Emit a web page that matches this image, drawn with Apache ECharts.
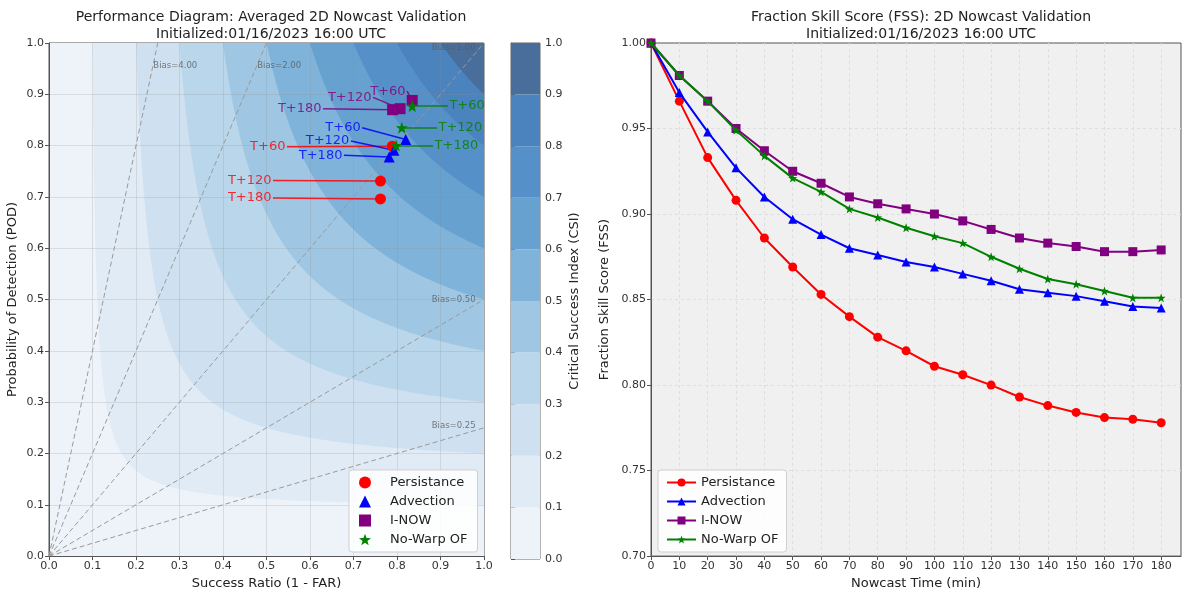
<!DOCTYPE html>
<html>
<head>
<meta charset="utf-8">
<title>2D Nowcast Validation</title>
<script src="https://cdn.jsdelivr.net/npm/echarts@6/dist/echarts.min.js"></script>
<style>html,body{margin:0;padding:0;background:#fff;}</style>
</head>
<body>
<div id="main" style="width:1188px;height:595px;"></div>
<script type="text/javascript">

// --- data ---
var methods = ['Persistance', 'Advection', 'I-NOW', 'No-Warp OF'];
var leadLabels = ['T+60', 'T+120', 'T+180'];

// performance diagram points [success ratio, POD] for T+60, T+120, T+180
var perfPersist = [[0.789, 0.799], [0.762, 0.731], [0.762, 0.696]];
var perfAdvect  = [[0.820, 0.812], [0.793, 0.791], [0.782, 0.778]];
var perfInow    = [[0.835, 0.888], [0.807, 0.872], [0.790, 0.870]];
var perfNowarp  = [[0.835, 0.877], [0.811, 0.835], [0.798, 0.800]];

// where the annotation text sits (data coords)
var notePersist = [[0.547, 0.798], [0.515, 0.732], [0.515, 0.698]];
var noteAdvect  = [[0.720, 0.835], [0.694, 0.809], [0.678, 0.781]];
var noteInow    = [[0.823, 0.906], [0.745, 0.894], [0.630, 0.872]];
var noteNowarp  = [[0.917, 0.877], [0.892, 0.835], [0.883, 0.800]];

var biasValues = [0.25, 0.5, 1, 2, 4];
var csiLevels = [0, 0.1, 0.2, 0.3, 0.4, 0.5, 0.6, 0.7, 0.8, 0.9];
var csiColors = ['#eef3f9', '#e0ebf5', '#cfe1f0', '#b9d6ea', '#9fc7e3',
                 '#7fb3da', '#66a1d0', '#5590c8', '#4b83bf', '#4a6e9c'];

// fraction skill score vs nowcast time
var times = [0, 10, 20, 30, 40, 50, 60, 70, 80, 90, 100, 110, 120, 130, 140, 150, 160, 170, 180];
var fssPersist = [1.0, 0.966, 0.933, 0.908, 0.886, 0.869, 0.853, 0.840, 0.828, 0.820, 0.811, 0.806, 0.800, 0.793, 0.788, 0.784, 0.781, 0.780, 0.778];
var fssAdvect  = [1.0, 0.971, 0.948, 0.927, 0.910, 0.897, 0.888, 0.880, 0.876, 0.872, 0.869, 0.865, 0.861, 0.856, 0.854, 0.852, 0.849, 0.846, 0.845];
var fssInow    = [1.0, 0.981, 0.966, 0.950, 0.937, 0.925, 0.918, 0.910, 0.906, 0.903, 0.900, 0.896, 0.891, 0.886, 0.883, 0.881, 0.878, 0.878, 0.879];
var fssNowarp  = [1.0, 0.981, 0.966, 0.949, 0.934, 0.921, 0.913, 0.903, 0.898, 0.892, 0.887, 0.883, 0.875, 0.868, 0.862, 0.859, 0.855, 0.851, 0.851];

// --- styling ---
var FONT = 'DejaVu Sans';
var colors = ['#ff0000', '#0000ff', '#800080', '#008000'];
var star = 'path://M0,-10L2.35,-3.24L9.51,-3.09L3.8,1.24L5.88,8.09L0,4L-5.88,8.09L-3.8,1.24L-9.51,-3.09L-2.35,-3.24Z';
var symbols = ['circle', 'triangle', 'rect', star];
var perfData = [perfPersist, perfAdvect, perfInow, perfNowarp];
var noteData = [notePersist, noteAdvect, noteInow, noteNowarp];
var noteSide = ['left', 'left', 'left', 'right'];
var fssData = [fssPersist, fssAdvect, fssInow, fssNowarp];

var myChart = echarts.init(document.getElementById('main'));

function pairs(xs, ys) {
  return xs.map(function (x, i) { return [x, ys[i]]; });
}

// filled CSI band: region where CSI >= level, painted lowest first
function renderBand(params, api) {
  var c = api.value(0);
  var pts = [];
  if (c <= 0) {
    pts = [api.coord([0, 0]), api.coord([1, 0]), api.coord([1, 1]), api.coord([0, 1])];
  } else {
    var K = 1 / c - 1, n = 240;
    for (var i = n; i >= 0; i--) {
      var u = K * i / n;
      pts.push(api.coord([1 / (1 + u), 1 / (1 + K - u)]));
    }
    pts.push(api.coord([1, 1]));
  }
  return { type: 'polygon', shape: { points: pts }, style: { fill: csiColors[params.dataIndex] } };
}

function renderCbar(params, api) {
  var c = api.value(0);
  var p0 = api.coord([0, c + 0.1]);
  var p1 = api.coord([1, c]);
  return { type: 'rect', shape: { x: p0[0], y: p0[1], width: p1[0] - p0[0], height: p1[1] - p0[1] },
           style: { fill: csiColors[params.dataIndex] } };
}

var axisCommon = {
  axisLine: { show: true, lineStyle: { color: '#555', width: 1 } },
  axisTick: { show: true, length: 4, lineStyle: { color: '#555' } },
  axisLabel: { color: '#333', fontSize: 11, fontFamily: FONT, margin: 5 },
  nameTextStyle: { color: '#222', fontSize: 13, fontFamily: FONT }
};

function axis(extra) {
  return echarts.util.merge(echarts.util.clone(axisCommon), extra, true);
}

var series = [];

// right panel lines (first so the right legend picks line icons)
methods.forEach(function (m, i) {
  series.push({
    name: m, type: 'line', xAxisIndex: 2, yAxisIndex: 2,
    data: pairs(times, fssData[i]),
    symbol: symbols[i], symbolSize: 9,
    lineStyle: { color: colors[i], width: 2 },
    itemStyle: { color: colors[i] },
    z: 5 + i
  });
});

// CSI contours
series.push({
  type: 'custom', name: 'csi', xAxisIndex: 0, yAxisIndex: 0, silent: true,
  data: csiLevels.map(function (c) { return [c]; }),
  renderItem: renderBand, z: 1
});

// colour bar
series.push({
  type: 'custom', name: 'cbar', xAxisIndex: 1, yAxisIndex: 1, silent: true,
  data: csiLevels.map(function (c) { return [c]; }),
  renderItem: renderCbar, z: 1
});

// bias lines
series.push({
  type: 'lines', name: 'bias', coordinateSystem: 'cartesian2d', xAxisIndex: 0, yAxisIndex: 0, silent: true,
  data: biasValues.map(function (b) {
    return { coords: [[0, 0], b >= 1 ? [1 / b, 1] : [1, b]] };
  }),
  lineStyle: { color: '#999', width: 1, type: [5, 3], opacity: 1 },
  z: 4
});
series.push({
  type: 'scatter', name: 'biasText', xAxisIndex: 0, yAxisIndex: 0, silent: true,
  symbolSize: 1, itemStyle: { color: 'transparent' },
  data: biasValues.map(function (b) {
    return b > 1
      ? { value: [0.955 / b, 0.955], label: { position: 'right', distance: 0 } }
      : { value: [0.982, 0.982 * b + 0.008], label: { position: 'left', distance: 0 } };
  }),
  label: {
    show: true, color: '#5a5a5a', fontSize: 8.5, fontFamily: FONT,
    formatter: function (p) { return 'Bias=' + biasValues[p.dataIndex].toFixed(2); }
  },
  z: 7
});

// annotations + markers
methods.forEach(function (m, i) {
  series.push({
    type: 'lines', name: 'note-' + m, coordinateSystem: 'cartesian2d', xAxisIndex: 0, yAxisIndex: 0, silent: true,
    data: noteData[i].map(function (p, k) { return { coords: [p, perfData[i][k]] }; }),
    lineStyle: { color: colors[i], width: 1.5, opacity: 0.85 },
    z: 6
  });
  series.push({
    type: 'scatter', name: 'text-' + m, xAxisIndex: 0, yAxisIndex: 0, silent: true,
    symbolSize: 1, itemStyle: { color: 'transparent' },
    data: noteData[i],
    label: {
      show: true, position: noteSide[i], distance: 1, color: colors[i], opacity: 0.8,
      fontSize: 13, fontFamily: FONT,
      formatter: function (p) { return leadLabels[p.dataIndex]; }
    },
    z: 6
  });
});
methods.forEach(function (m, i) {
  series.push({
    name: m, type: 'scatter', xAxisIndex: 0, yAxisIndex: 0,
    data: perfData[i], symbol: symbols[i], symbolSize: i === 3 ? 12 : 11,
    itemStyle: { color: colors[i], opacity: 1 },
    z: 8
  });
});

var legendBox = {
  orient: 'vertical', itemGap: 6, padding: [6, 8],
  backgroundColor: 'rgba(255,255,255,0.85)', borderColor: '#cfcfcf', borderWidth: 1, borderRadius: 3,
  textStyle: { color: '#222', fontSize: 13, fontFamily: FONT }
};

var gridLine = { show: true, showMinLine: false, showMaxLine: false,
  lineStyle: { color: '#dedede', width: 1, type: [3, 3] } };

var leftLegend = echarts.util.extend({
  left: 349, top: 470, itemWidth: 12, itemHeight: 12,
  data: methods.map(function (m, i) { return { name: m, icon: symbols[i] }; })
}, echarts.util.clone(legendBox));
leftLegend.itemStyle = { borderWidth: 0 };
leftLegend.textStyle = echarts.util.extend({ padding: [0, 0, 0, 14] }, legendBox.textStyle);
leftLegend.padding = [6, 10, 6, 10];

var option = {
  animation: false,
  backgroundColor: '#ffffff',
  title: [
    { text: 'Performance Diagram: Averaged 2D Nowcast Validation\nInitialized:01/16/2023 16:00 UTC',
      left: 266, top: 4, textAlign: 'center',
      textStyle: { fontSize: 14, fontWeight: 'normal', color: '#222', lineHeight: 17, fontFamily: FONT } },
    { text: 'Fraction Skill Score (FSS): 2D Nowcast Validation\nInitialized:01/16/2023 16:00 UTC',
      left: 916, top: 4, textAlign: 'center',
      textStyle: { fontSize: 14, fontWeight: 'normal', color: '#222', lineHeight: 17, fontFamily: FONT } }
  ],
  legend: [
    leftLegend,
    echarts.util.extend({
      left: 658, top: 470, itemWidth: 29, itemHeight: 10,
      data: methods.slice()
    }, echarts.util.clone(legendBox))
  ],
  grid: [
    { left: 49, top: 43, width: 435, height: 516, show: true, borderColor: '#555', borderWidth: 1, backgroundColor: 'transparent' },
    { left: 511, top: 43, width: 29, height: 516, show: true, borderColor: '#666', borderWidth: 1, backgroundColor: 'transparent' },
    { left: 651, top: 43, width: 530, height: 516, show: true, borderColor: '#555', borderWidth: 1, backgroundColor: '#f0f0f0' }
  ],
  xAxis: [
    axis({ gridIndex: 0, type: 'value', min: 0, max: 1, interval: 0.1, z: 3,
      name: 'Success Ratio (1 - FAR)', nameLocation: 'middle', nameGap: 20,
      axisLabel: { formatter: function (v) { return v.toFixed(1); } },
      splitLine: { show: true, showMinLine: false, showMaxLine: false,
        lineStyle: { color: 'rgba(140,140,140,0.22)', width: 1 } } }),
    { gridIndex: 1, type: 'value', min: 0, max: 1, show: false },
    axis({ gridIndex: 2, type: 'value', min: 0, max: 187, interval: 10,
      name: 'Nowcast Time (min)', nameLocation: 'middle', nameGap: 20,
      axisLabel: { showMaxLabel: false },
      splitLine: gridLine })
  ],
  yAxis: [
    axis({ gridIndex: 0, type: 'value', min: 0, max: 1, interval: 0.1, z: 3,
      name: 'Probability of Detection (POD)', nameLocation: 'middle', nameGap: 30,
      axisLabel: { formatter: function (v) { return v.toFixed(1); } },
      splitLine: { show: true, showMinLine: false, showMaxLine: false,
        lineStyle: { color: 'rgba(140,140,140,0.22)', width: 1 } } }),
    axis({ gridIndex: 1, type: 'value', min: 0, max: 1, interval: 0.1, position: 'right',
      name: 'Critical Success Index (CSI)', nameLocation: 'middle', nameGap: 28, nameRotate: 90,
      axisLine: { lineStyle: { color: '#666' } },
      axisLabel: { formatter: function (v) { return v.toFixed(1); } },
      splitLine: { show: false } }),
    axis({ gridIndex: 2, type: 'value', min: 0.7, max: 1.0, interval: 0.05,
      name: 'Fraction Skill Score (FSS)', nameLocation: 'middle', nameGap: 40,
      axisLabel: { formatter: function (v) { return v.toFixed(2); } },
      splitLine: gridLine })
  ],
  series: series
};

myChart.setOption(option);
</script>
</body>
</html>
